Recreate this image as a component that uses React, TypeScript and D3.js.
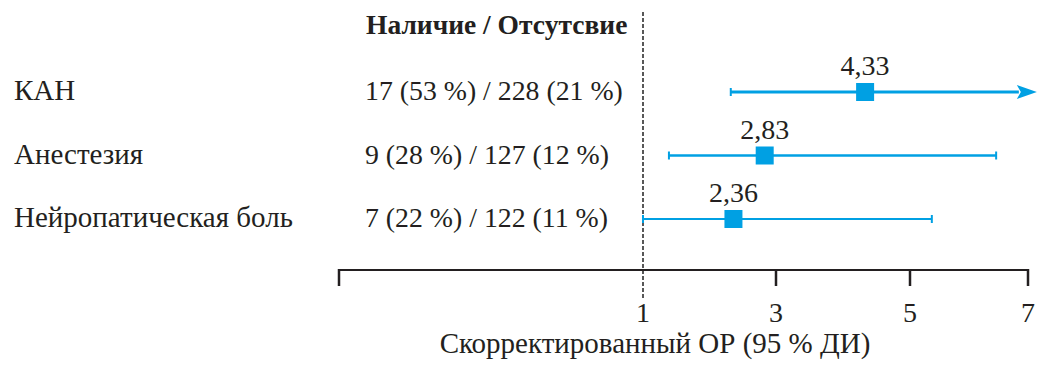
import React, { useEffect, useRef } from 'react';
import * as d3 from 'd3';

const rowLabels = ['КАН', 'Анестезия', 'Нейропатическая боль'];
const counts = ['17 (53 %) / 228 (21 %)', '9 (28 %) / 127 (12 %)', '7 (22 %) / 122 (11 %)'];
const orValues = [4.33, 2.83, 2.36];
const ciLow = [2.32, 1.39, 1.0];
const ciHigh: (number | null)[] = [null, 6.46, 5.37];
const lineWidths = [3, 2.5, 2];
const tickValues = [1, 3, 5, 7];
const arrowTo = 7.15;

const headerText = 'Наличие / Отсутсвие';
const axisTitle = 'Скорректированный ОР (95 % ДИ)';

const blue = '#00a0e3';
const ink = '#231f20';
const font = '"Liberation Serif", "DejaVu Serif", serif';

function App() {
    const ref = useRef<SVGSVGElement>(null);
    const width = 1052;
    const height = 371;

    useEffect(() => {
        const svg = d3.select(ref.current);
        svg.selectAll('*').remove();

        // hand-drawn axis in the source: spacing between ticks is not quite even
        const x = d3.scaleLinear().domain(tickValues).range([643, 776, 910, 1028]);
        const y = d3.scaleLinear().domain([0, rowLabels.length - 1]).range([92, 219]);
        const axisY = 270;
        const axisLeft = 339;

        const addText = (tx: number, ty: number, s: string, size: number, anchor = 'start', bold = false) =>
            svg.append('text')
                .attr('x', tx)
                .attr('y', ty)
                .attr('text-anchor', anchor)
                .style('font-family', font)
                .style('font-size', `${size}px`)
                .style('font-weight', bold ? 'bold' : 'normal')
                .style('fill', ink)
                .text(s);

        // header
        addText(366, 34, headerText, 27.5, 'start', true);

        // reference line at OR = 1
        svg.append('line')
            .attr('x1', x(1)).attr('x2', x(1))
            .attr('y1', 12).attr('y2', 300)
            .attr('stroke', '#222')
            .attr('stroke-width', 1.5)
            .attr('stroke-dasharray', '4,2');

        rowLabels.forEach((label, i) => {
            const cy = y(i);

            addText(14, cy + 8, label, 29);
            addText(365, cy + 8, counts[i], 27.8);

            const lo = x(ciLow[i]);
            const hi = ciHigh[i] === null ? x(arrowTo) - 18 : x(ciHigh[i] as number);
            const lw = lineWidths[i];

            svg.append('line')
                .attr('x1', lo).attr('x2', hi)
                .attr('y1', cy).attr('y2', cy)
                .attr('stroke', blue)
                .attr('stroke-width', lw);

            // caps
            svg.append('line')
                .attr('x1', lo).attr('x2', lo)
                .attr('y1', cy - 4).attr('y2', cy + 4)
                .attr('stroke', blue)
                .attr('stroke-width', 2);

            if (ciHigh[i] !== null) {
                svg.append('line')
                    .attr('x1', hi).attr('x2', hi)
                    .attr('y1', cy - 4).attr('y2', cy + 4)
                    .attr('stroke', blue)
                    .attr('stroke-width', 2);
            } else {
                const tip = x(arrowTo);
                svg.append('path')
                    .attr('d', `M${tip},${cy} L${tip - 20},${cy - 7} L${tip - 16},${cy} L${tip - 20},${cy + 7} Z`)
                    .attr('fill', blue);
            }

            const px = x(orValues[i]);
            svg.append('rect')
                .attr('x', px - 9)
                .attr('y', cy - 9)
                .attr('width', 18)
                .attr('height', 18)
                .attr('fill', blue);

            addText(px, cy - 17, d3.format('.2f')(orValues[i]).replace('.', ','), 28, 'middle');
        });

        // x axis
        svg.append('line')
            .attr('x1', axisLeft).attr('x2', x(7) + 1)
            .attr('y1', axisY).attr('y2', axisY)
            .attr('stroke', ink)
            .attr('stroke-width', 2);

        svg.append('line')
            .attr('x1', axisLeft).attr('x2', axisLeft)
            .attr('y1', axisY - 1).attr('y2', axisY + 16)
            .attr('stroke', ink)
            .attr('stroke-width', 2.5);

        tickValues.forEach((t) => {
            if (t !== 1) {
                svg.append('line')
                    .attr('x1', x(t)).attr('x2', x(t))
                    .attr('y1', axisY - 1).attr('y2', axisY + 16)
                    .attr('stroke', ink)
                    .attr('stroke-width', 2.5);
            }
            addText(x(t), 322, String(t), 28, 'middle');
        });

        addText(655, 353, axisTitle, 29, 'middle');
    }, []);

    return (
        <div style={{ position: 'absolute', left: 0, top: 0 }}>
            <svg ref={ref} width={width} height={height} style={{ display: 'block', background: '#fff' }}></svg>
        </div>
    );
}

export default App;
